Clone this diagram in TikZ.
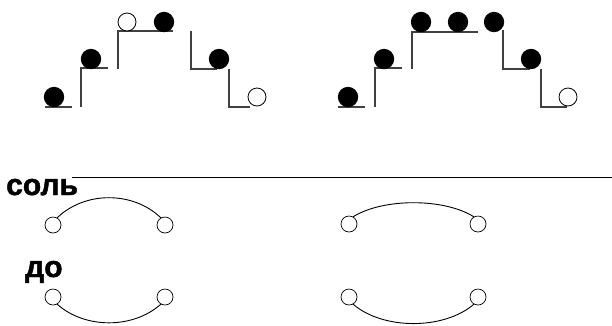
\documentclass[tikz,border=0pt]{standalone}
\usepackage{fontspec}
\setmainfont{Liberation Sans}
\newfontfamily\heavyfont[FakeBold=1.5]{Liberation Sans Bold}
\begin{document}
\begin{tikzpicture}[x=1pt,y=-1pt,
  ball/.style={circle,draw,fill=black,minimum size=19.5pt,inner sep=0pt,line width=0.8pt},
  hole/.style={circle,draw,fill=white,minimum size=18pt,inner sep=0pt,line width=0.8pt},
  stair/.style={line width=1.6pt,draw=black!75},
  ring/.style={circle,draw,minimum size=16pt,inner sep=0pt,line width=0.7pt},
  arcline/.style={line width=0.9pt},
  lbl/.style={font=\fontsize{30}{30}\heavyfont,inner sep=0pt}]
\useasboundingbox (0,0) rectangle (612,325);
% left staircase
\draw[stair] (45,107) -- (72,107);
\draw[stair] (81,107) -- (81,68) -- (108,68);
\draw[stair] (118,69) -- (118,31) -- (173,31);
\draw[stair] (191,31) -- (191,69) -- (217,69);
\draw[stair] (229,69) -- (229,107) -- (250,107);
\node[ball] (l1) at (54,97) {};
\node[ball] (l2) at (91,59) {};
\node[hole] (l3) at (127,22) {};
\node[ball] (l4) at (164,22) {};
\node[ball] (l5) at (219,59) {};
\node[hole] (l6) at (257,97) {};
% right staircase
\draw[stair] (338,107) -- (365,107);
\draw[stair] (375,107) -- (375,68) -- (402,68);
\draw[stair] (412,69) -- (412,32) -- (478,32);
\draw[stair] (503,30) -- (503,69) -- (530,69);
\draw[stair] (541,69) -- (541,107) -- (567,107);
\node[ball] (r1) at (348,97) {};
\node[ball] (r2) at (384,59) {};
\node[ball] (r3) at (421,22) {};
\node[ball] (r4) at (458,22) {};
\node[ball] (r5) at (494,22) {};
\node[ball] (r6) at (531,59) {};
\node[hole] (r7) at (568,97) {};
% separator line and labels
\draw[line width=1pt] (72,177) -- (612,177);
\node[lbl,anchor=base west] (sol) at (6,195) {соль};
\node[lbl,anchor=base west] (do) at (25,277) {до};
% rings and arcs
\node[ring] (a1) at (53,225) {};
\node[ring] (a2) at (165,225) {};
\node[ring] (b1) at (349,224) {};
\node[ring] (b2) at (478,224) {};
\node[ring] (c1) at (53,297) {};
\node[ring] (c2) at (165,297) {};
\node[ring] (d1) at (349,297) {};
\node[ring] (d2) at (478,297) {};
\draw[arcline] (a1.60) .. controls (85,191) and (133,191) .. (a2.120);
\draw[arcline] (b1.60) .. controls (383,198) and (444,198) .. (b2.120);
\draw[arcline] (c1.-60) .. controls (85,329) and (133,329) .. (c2.-120);
\draw[arcline] (d1.-60) .. controls (383,330) and (444,330) .. (d2.-120);
\end{tikzpicture}
\end{document}
